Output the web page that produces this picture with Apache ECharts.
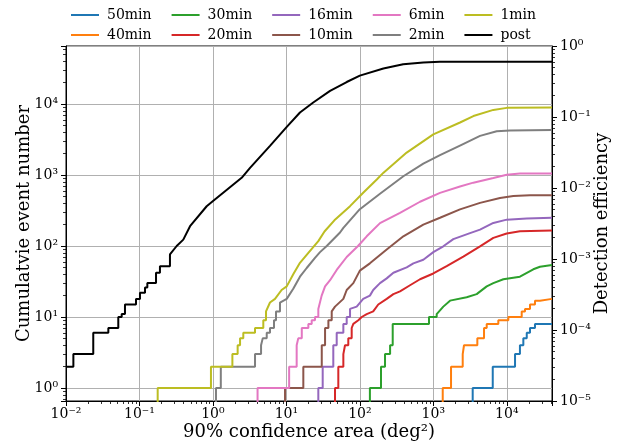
<!DOCTYPE html>
<html>
<head>
<meta charset="utf-8">
<script src="https://cdn.jsdelivr.net/npm/echarts@6/dist/echarts.min.js"></script>
<style>
  html, body { margin: 0; padding: 0; background: #fff; }
  #chart { width: 626px; height: 445px; }
</style>
</head>
<body>
<div id="chart"></div>
<script>
// cumulative event counts vs 90% area, [area (deg2), count]
// jumps are written as two points with the same area
const min50 = [[3435,0.5],[3435,1],[6440,1],[6440,2],[12950,2],[12950,3],[15100,3],[15100,4],[16800,4],[16800,5],[18700,5],[18700,6],[20700,6],[20700,7],[24200,7],[24200,8],[41253,8]]
const min40 = [[1343,0.5],[1343,1],[1742,1],[1742,2],[2512,2],[2512,3],[2617,3],[2617,4],[3973,4],[3973,5],[4900,5],[4900,7],[5330,7],[5330,8],[7670,8],[7670,9],[10500,9],[10500,10],[15960,10],[15960,12],[17700,12],[17700,13],[20700,13],[20700,15],[24200,15],[24200,17],[28300,17],[28300,18],[41253,18]]
const min30 = [[137,0.5],[137,1],[194,1],[194,2],[220,2],[220,3],[258,3],[258,4],[280,4],[280,8],[873,8],[873,10],[1111,10],[1111,11],[1368,14],[1688,17],[2844,19],[3890,21],[5330,27],[6560,30],[8980,34],[15100,37],[22960,47],[28300,51],[41253,54]]
const min20 = [[45.9,0.5],[45.9,1],[50.9,1],[50.9,2],[59.6,2],[59.6,3],[62.8,3],[62.8,4],[69.6,4],[69.6,5],[77.4,5],[77.4,7],[81.5,7],[81.5,8],[95.3,9],[106,10],[124,11],[152,12],[178,15],[232,18],[286,21],[352,23],[482,28],[659,34],[1000,41],[1520,52],[2560,71],[4323,99],[6560,130],[9980,150],[15100,161],[41253,165]]
const min16 = [[27.2,0.5],[27.2,1],[31.2,1],[31.2,2],[43.5,2],[43.5,4],[48.4,4],[48.4,6],[59.6,6],[59.6,8],[66.2,8],[66.2,10],[73.5,10],[73.5,13],[90.6,14],[111,18],[137,20],[152,24],[188,30],[232,35],[286,42],[434,50],[535,57],[731,64],[1000,82],[1368,99],[1871,125],[3160,152],[4323,170],[6560,211],[9980,235],[18700,243],[41253,250]]
const min10 = [[9.58,0.5],[9.58,1],[17.0,1],[17.0,2],[30.3,2],[30.3,4],[33.6,4],[33.6,7],[37.3,7],[37.3,9],[41.4,9],[41.4,12],[45.9,14],[59.6,18],[66.2,24],[81.5,30],[100,45],[137,57],[232,89],[391,137],[731,200],[1233,250],[2307,328],[4323,405],[8084,475],[12280,505],[20700,520],[41253,520]]
const min6 = [[4.05,0.5],[4.05,1],[10.9,1],[10.9,2],[13.8,2],[13.8,4],[14.5,4],[14.5,5],[16.2,5],[16.2,7],[19.9,7],[19.9,8],[22.1,8],[22.1,9],[24.5,9],[24.5,10],[27.2,10],[27.2,13],[30.2,20],[33.6,27],[39.3,33],[48.4,46],[66.2,70],[94.4,100],[124,137],[188,210],[352,292],[659,420],[1233,560],[2307,690],[3505,780],[6560,910],[9980,1010],[15100,1050],[41253,1050]]
const min2 = [[1.10,0.5],[1.10,1],[1.28,1],[1.28,2],[3.74,2],[3.74,3],[4.52,3],[4.52,4],[4.76,4],[4.76,5],[5.40,5],[5.40,6],[5.98,6],[5.98,7],[6.78,7],[6.78,9],[7.22,9],[7.22,12],[8.18,12],[8.18,16],[10.1,18],[12.4,25],[15.3,37],[18.9,49],[24.5,68],[28.7,82],[35.4,100],[53.7,155],[59.6,180],[100,330],[188,545],[391,960],[731,1450],[1233,1900],[2307,2600],[4323,3560],[7290,4130],[11070,4230],[41253,4300]]
const min1 = [[0.177,0.5],[0.177,1],[0.94,1],[0.94,2],[1.84,2],[1.84,3],[2.17,3],[2.17,4],[2.34,4],[2.34,5],[2.59,5],[2.59,6],[3.74,6],[3.74,7],[4.85,7],[4.85,9],[5.28,9],[5.28,12],[5.98,16],[7.0,18],[8.6,24],[10.1,27],[12.4,40],[15.3,58],[19.9,80],[27.2,117],[33,160],[45,230],[73.5,364],[111,562],[170,866],[208,1070],[434,2070],[1000,3740],[2310,5490],[3510,6760],[6560,8260],[9980,8820],[41253,8920]]
const post = [[0.01,2],[0.0126,2],[0.0126,3],[0.0235,3],[0.0235,6],[0.0377,6],[0.0377,7],[0.0515,7],[0.0515,10],[0.0573,10],[0.0573,11],[0.0635,11],[0.0635,15],[0.0897,15],[0.0897,18],[0.1016,18],[0.1016,22],[0.119,22],[0.119,26],[0.128,26],[0.128,30],[0.168,30],[0.168,42],[0.19,42],[0.19,52],[0.26,52],[0.26,76],[0.321,100],[0.395,123],[0.488,190],[0.822,363],[0.993,427],[1.38,562],[2.46,912],[3.2,1260],[5.98,2570],[9.98,4680],[15.3,7590],[23.2,10500],[39.3,15300],[66.2,20400],[100,25100],[209,31600],[389,36300],[731,38500],[1230,39300],[41253,39500]]

const names = ['50min', '40min', '30min', '20min', '16min', '10min', '6min', '2min', '1min', 'post']
const curves = [min50, min40, min30, min20, min16, min10, min6, min2, min1, post]
const colors = ['#1f77b4', '#ff7f0e', '#2ca02c', '#d62728', '#9467bd', '#8c564b', '#e377c2', '#7f7f7f', '#bcbd22', '#000000']

// axis ranges
const xRange = [0.01, 41253]
const countRange = [0.656, 65600]
const effRange = [1e-5, 1]

const font = 'DejaVu Serif'
const sup = { '-': '\u207b', '0': '\u2070', '1': '\u00b9', '2': '\u00b2', '3': '\u00b3', '4': '\u2074', '5': '\u2075' }

// only label exact decades, as 10^n
const decadeLabel = (v) => {
  const e = Math.log10(v)
  const r = Math.round(e)
  if (Math.abs(e - r) > 1e-6) return ''
  return '10' + String(r).split('').map(c => sup[c]).join('')
}

const tickStyle = { show: true, inside: false, length: 5, lineStyle: { color: '#000', width: 1 } }
const minorStyle = { show: true, splitNumber: 9, length: 3, lineStyle: { color: '#000', width: 0.8 } }
const labelStyle = { color: '#000', fontSize: 14, fontFamily: font, formatter: decadeLabel, showMinLabel: false, showMaxLabel: false }
const gridLine = { show: true, lineStyle: { color: '#b0b0b0', width: 1 } }
const nameStyle = { fontFamily: font, fontSize: 18, color: '#000' }

// legend in two rows, column order like the original
const legendBase = {
  orient: 'horizontal',
  left: 66,
  icon: 'rect',
  itemWidth: 28,
  itemHeight: 2,
  itemGap: 20,
  textStyle: { fontFamily: font, fontSize: 14, color: '#000', width: 46, padding: [0, 0, 0, 3] }
}

const chart = echarts.init(document.getElementById('chart'), null, { renderer: 'canvas' })

const option = {
  animation: false,
  backgroundColor: '#fff',
  color: colors,
  grid: {
    left: 66, right: 74, top: 46, bottom: 44,
    outerBoundsMode: 'none',
    show: true, borderColor: '#000', borderWidth: 1, backgroundColor: 'transparent'
  },
  legend: [
    Object.assign({}, legendBase, { top: 3, data: ['50min', '30min', '16min', '6min', '1min'] }),
    Object.assign({}, legendBase, { top: 23, data: ['40min', '20min', '10min', '2min', 'post'] })
  ],
  xAxis: {
    type: 'log',
    min: xRange[0],
    max: xRange[1],
    name: '90% confidence area (deg\u00b2)',
    nameLocation: 'middle',
    nameGap: 22,
    nameMoveOverlap: false,
    nameTextStyle: nameStyle,
    axisLine: { show: true, lineStyle: { color: '#000', width: 1 } },
    axisTick: tickStyle,
    minorTick: minorStyle,
    axisLabel: Object.assign({}, labelStyle, { margin: 6, showMinLabel: true }),
    splitLine: gridLine
  },
  yAxis: [
    {
      type: 'log',
      min: countRange[0],
      max: countRange[1],
      position: 'left',
      name: 'Cumulatvie event number',
      nameLocation: 'middle',
      nameGap: 33,
      nameMoveOverlap: false,
      nameTextStyle: nameStyle,
      axisLine: { show: true, lineStyle: { color: '#000', width: 1 } },
      axisTick: tickStyle,
      minorTick: minorStyle,
      axisLabel: Object.assign({}, labelStyle, { margin: 8 }),
      splitLine: gridLine
    },
    {
      type: 'log',
      min: effRange[0],
      max: effRange[1],
      position: 'right',
      name: 'Detection efficiency',
      nameLocation: 'middle',
      nameGap: 41,
      nameRotate: 90,
      nameMoveOverlap: false,
      nameTextStyle: nameStyle,
      axisLine: { show: true, lineStyle: { color: '#000', width: 1 } },
      axisTick: tickStyle,
      minorTick: minorStyle,
      axisLabel: Object.assign({}, labelStyle, { margin: 8, showMinLabel: true, showMaxLabel: true }),
      splitLine: { show: false }
    }
  ],
  series: curves.map((data, i) => ({
    name: names[i],
    type: 'line',
    yAxisIndex: 0,
    data: data,
    symbol: 'none',
    showSymbol: false,
    clip: true,
    lineStyle: { width: 2, color: colors[i] },
    itemStyle: { color: colors[i] },
    emphasis: { disabled: true },
    z: 2 + i
  }))
}

chart.setOption(option)
</script>
</body>
</html>
